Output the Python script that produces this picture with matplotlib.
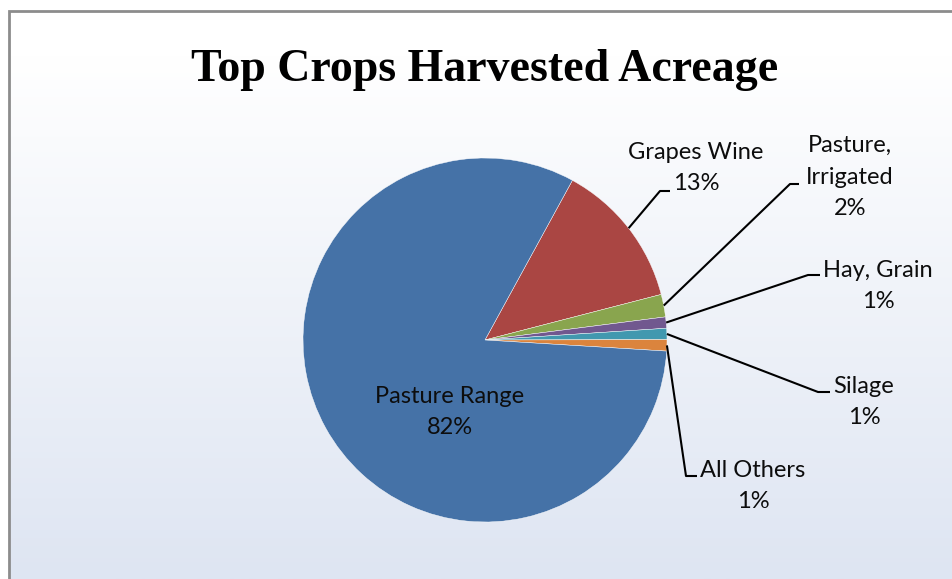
import numpy as np
import matplotlib
matplotlib.use("Agg")
import matplotlib.pyplot as plt
from matplotlib.colors import LinearSegmentedColormap
from matplotlib.patches import Rectangle

# Crop shares (percent), listed clockwise starting at the Grapes Wine wedge
crops = ["Grapes Wine", "Pasture,\nIrrigated", "Hay, Grain", "Silage", "All Others", "Pasture Range"]
shares = [13, 2, 1, 1, 1, 82]
colors = ["#AA4643", "#89A54E", "#71588F", "#4198AF", "#DB843D", "#4572A7"]
title = "Top Crops Harvested Acreage"

W, H = 952, 579
fig = plt.figure(figsize=(W / 100, H / 100), dpi=100)
fig.patch.set_facecolor("white")

# Full-figure axes working in pixel units (y measured upward)
ax = fig.add_axes([0, 0, 1, 1])
ax.set_xlim(0, W)
ax.set_ylim(0, H)
ax.axis("off")

# Chart-area background: white fading to pale blue, framed by a gray border
grad = np.linspace(0, 1, 256).reshape(-1, 1)
cmap = LinearSegmentedColormap.from_list(
    "bg", [(0.0, "#FFFFFF"), (0.08, "#FFFFFF"), (1.0, "#DEE5F2")])
ax.imshow(grad, cmap=cmap, extent=(9, W + 5, 0, H - 11), origin="upper",
          aspect="auto", zorder=0)
ax.add_patch(Rectangle((8.5, -5), W + 10, H - 10.5 + 5, fill=False,
                       edgecolor="#8C8C8C", linewidth=2.0, zorder=1))

# Pie
cx, cy, r = 485, H - 340, 182
start = 61.3
wedges, _ = ax.pie(shares, colors=colors, startangle=start, counterclock=False,
                   center=(cx, cy), radius=r, frame=True,
                   wedgeprops=dict(edgecolor="white", linewidth=0.3))
ax.set_xlim(0, W)
ax.set_ylim(0, H)
ax.set_aspect("equal")
ax.axis("off")
for w in wedges:
    w.set_zorder(2)

font = ["Lato", "DejaVu Sans"]
fs = 17
lsp = 1.62

# Outside labels: (text centre x, text block centre y, elbow x, elbow y, line end x)
layout = {
    "Grapes Wine": (696, 168, 660, 191, 670),
    "Pasture,\nIrrigated": (850, 177, 790, 184, 799),
    "Hay, Grain": (878, 286, 808, 275, 820),
    "Silage": (864, 402, 818, 392, 830),
    "All Others": (753, 486, 686, 476, 697),
}

for w, name, val in zip(wedges, crops, shares):
    label = f"{name}\n{val}%"
    if name in layout:
        tx, ty, ex, ey, lx = layout[name]
        mid = np.deg2rad((w.theta1 + w.theta2) / 2)
        px, py = cx + r * np.cos(mid), cy + r * np.sin(mid)
        ax.plot([px, ex, lx], [py, H - ey, H - ey], color="black",
                linewidth=1.5, zorder=3, solid_capstyle="butt")
        ax.text(tx, H - ty, label, ha="center", va="center", fontsize=fs,
                family=font, linespacing=lsp, zorder=4, color="#0D0D0D")
    else:
        ax.text(450, H - 412, label, ha="center", va="center", fontsize=fs,
                family=font, linespacing=lsp, zorder=4, color="#0D0D0D")

ax.text(485, H - 81, title, ha="center", va="baseline", fontsize=33,
        family=["Liberation Serif", "DejaVu Serif"], fontweight="bold",
        zorder=4, color="black")

fig.savefig("out.png", dpi=100, facecolor=fig.get_facecolor())
